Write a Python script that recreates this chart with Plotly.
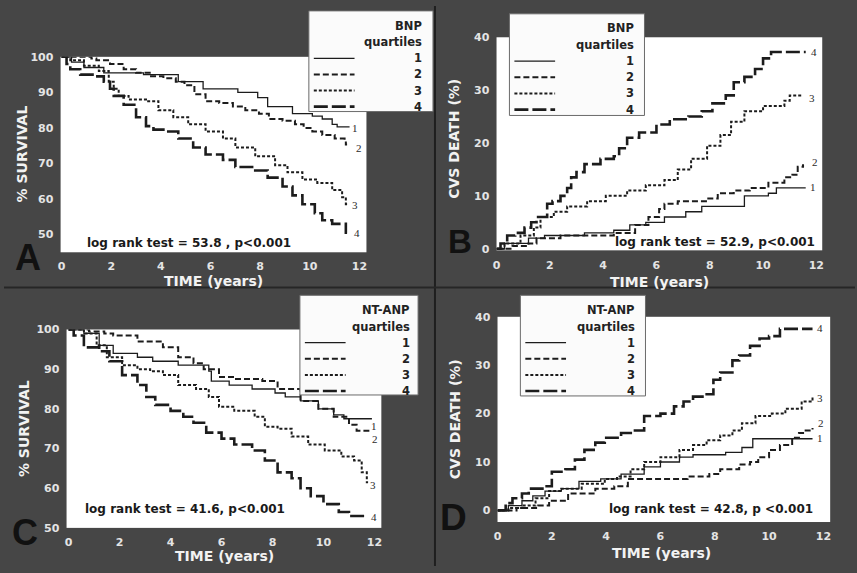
import plotly.graph_objects as go

# ---------------- data ----------------
quartiles = ["1", "2", "3", "4"]
x_ticks = [0, 2, 4, 6, 8, 10, 12]
surv_ticks = [50, 60, 70, 80, 90, 100]
cvs_ticks = [0, 10, 20, 30, 40]

# A: BNP quartiles, % survival
bnp_surv_t1 = [0, 0.4, 0.9, 1.7, 3.3, 4.7, 5.7, 7.1, 7.9, 8.3, 9.3, 10.1, 10.5, 10.9, 11.1, 11.6]
bnp_surv_1 = [100, 98.5, 97, 95.5, 95, 93, 91, 90, 88.5, 86, 84, 83.3, 82.5, 81, 80.3, 80.3]
bnp_surv_t2 = [0, 1.2, 1.4, 1.95, 2.5, 3.0, 3.55, 4.1, 4.6, 4.95, 5.35, 5.8, 6.35, 6.9, 7.4, 7.95, 8.35, 8.9, 9.4, 9.75, 10.1, 10.5, 11.0, 11.4, 11.45, 11.5]
bnp_surv_2 = [100, 99.5, 99, 98, 96.5, 95.5, 94.5, 94, 93, 92, 89.5, 87.5, 87, 86, 85, 84, 82.5, 82, 81, 80, 79, 78, 77, 76.3, 75.3, 75.3]
bnp_surv_t3 = [0, 0.35, 0.9, 1.5, 1.9, 2.1, 2.3, 2.7, 3.4, 3.9, 4.5, 5.1, 5.8, 6.5, 7.0, 7.8, 8.6, 9.1, 9.7, 10.3, 10.9, 11.3, 11.45, 11.5]
bnp_surv_3 = [100, 99, 97.5, 96, 93, 91, 89, 88, 87.5, 85, 83, 81, 79, 77, 74.5, 72, 69.5, 67.5, 65.5, 64.5, 62.5, 60.5, 58.5, 58.5]
bnp_surv_t4 = [0, 0.2, 0.35, 0.75, 1.3, 1.7, 1.95, 2.1, 2.5, 3.0, 3.4, 3.7, 4.1, 4.7, 5.3, 5.8, 6.5, 7.0, 7.8, 8.3, 8.9, 9.3, 9.7, 10.2, 10.5, 10.9, 11.45, 11.5]
bnp_surv_4 = [100, 98, 96.5, 95, 94.5, 93, 91, 89, 86.5, 83, 80.5, 79.5, 79, 77, 74.5, 72.5, 71, 69, 68, 66, 63.5, 61, 58.5, 56, 54, 53, 50.5, 50.5]

# B: BNP quartiles, CVS death (%)
bnp_cvs_t1 = [0, 0.3, 1.2, 1.8, 3.3, 4.4, 5.0, 5.6, 6.3, 7.1, 7.7, 9.3, 10.2, 10.5, 11.6]
bnp_cvs_1 = [0, 1, 2, 2.5, 3, 3.5, 4.5, 5, 6, 7, 8, 10, 10.5, 11.5, 11.5]
bnp_cvs_t2 = [0, 0.6, 1.2, 1.5, 2.4, 4.4, 5.2, 5.7, 6.1, 6.3, 6.8, 7.9, 8.3, 8.9, 9.5, 10.2, 10.8, 11.1, 11.3, 11.5]
bnp_cvs_2 = [0, 0.5, 1, 2, 2.5, 3, 4.5, 6, 7.5, 8.5, 9, 9.5, 10.5, 11, 11.5, 12.5, 13.5, 14, 15.5, 16]
bnp_cvs_t3 = [0, 0.3, 0.9, 1.4, 1.65, 2.15, 2.65, 3.4, 4.1, 4.9, 5.6, 6.3, 6.8, 7.3, 7.9, 8.4, 8.8, 9.3, 10.0, 10.8, 11.0, 11.5]
bnp_cvs_3 = [0, 1, 2.5, 4, 6, 7, 8, 9, 10, 11, 12, 13, 15, 17, 19.5, 21.5, 24, 26, 27, 28, 29, 29]
bnp_cvs_t4 = [0, 0.15, 0.4, 0.7, 1.05, 1.3, 1.5, 1.9, 2.1, 2.4, 2.65, 2.8, 3.0, 3.3, 3.9, 4.4, 4.6, 4.9, 5.35, 6.0, 6.5, 7.2, 7.7, 8.1, 8.6, 8.9, 9.3, 9.7, 10.0, 10.3, 11.6]
bnp_cvs_4 = [0, 1, 2.5, 3, 4, 5, 6, 8.5, 9, 10, 11.5, 13.5, 14.5, 16, 17, 17.5, 19, 21, 22, 23.5, 24.5, 25, 26, 27.5, 29, 31.5, 32.5, 34, 36, 37.2, 37.2]

# C: NT-ANP quartiles, % survival
ntanp_surv_t1 = [0, 0.6, 1.2, 1.75, 2.7, 3.3, 4.3, 5.5, 5.6, 6.3, 7.2, 8.1, 8.5, 9.1, 9.8, 10.4, 10.8, 11.9]
ntanp_surv_1 = [100, 99, 96, 94, 93, 92, 91, 89.5, 87, 86, 85, 84, 83, 82, 80, 78.5, 77.5, 77.5]
ntanp_surv_t2 = [0, 0.8, 1.4, 1.75, 2.7, 3.7, 4.3, 4.9, 5.3, 5.9, 6.5, 7.6, 8.2, 9.1, 9.8, 10.4, 11.0, 11.3, 11.8]
ntanp_surv_2 = [100, 99.5, 99, 98.5, 97, 95.5, 93, 91.5, 90, 88, 87.5, 87, 85, 82, 80, 78, 76, 74.5, 74.5]
ntanp_surv_t3 = [0, 0.6, 1.1, 1.5, 2.1, 2.7, 3.2, 3.7, 4.3, 5.0, 5.5, 5.9, 6.5, 7.3, 7.7, 8.2, 8.75, 9.4, 10.05, 10.7, 11.2, 11.5, 11.7, 11.75]
ntanp_surv_3 = [100, 99, 96, 93, 91, 90, 89.5, 88.5, 86, 85, 83, 80.5, 79.5, 78, 75.5, 75, 73, 71, 69.5, 68, 67, 64, 61.5, 61.5]
ntanp_surv_t4 = [0, 0.2, 0.6, 1.2, 1.6, 2.1, 2.7, 3.05, 3.4, 4.0, 4.5, 4.9, 5.4, 6.0, 6.5, 7.2, 7.7, 8.2, 8.75, 9.1, 9.5, 10.0, 10.6, 11.0, 11.6]
ntanp_surv_4 = [100, 98.5, 95.5, 94.5, 92, 88.5, 86, 83, 81, 79.5, 78, 76.5, 74, 72.5, 71, 69.5, 67, 64, 62.5, 60, 58, 56, 54, 53, 53]

# D: NT-ANP quartiles, CVS death (%)
ntanp_cvs_t1 = [0, 0.4, 0.9, 1.3, 1.75, 2.35, 3.0, 3.8, 4.55, 5.4, 6.0, 6.7, 7.2, 8.4, 9.0, 9.4, 11.6]
ntanp_cvs_1 = [0, 1, 2, 3, 4, 4.5, 6, 6.5, 7.5, 9, 10, 11, 11.5, 12, 13, 14.8, 14.8]
ntanp_cvs_t2 = [0, 0.7, 1.5, 1.9, 2.6, 3.6, 4.3, 4.8, 7.0, 7.8, 8.2, 8.9, 9.3, 9.6, 10.0, 10.4, 10.85, 11.1, 11.3, 11.6]
ntanp_cvs_2 = [0, 0.5, 1, 2, 3.5, 4.5, 5, 6.5, 7, 7.5, 8.5, 9.5, 10, 11, 12.5, 13.5, 15, 16, 16.5, 17]
ntanp_cvs_t3 = [0, 0.4, 0.9, 1.4, 1.9, 2.35, 3.1, 3.95, 4.4, 4.9, 5.4, 6.0, 6.7, 7.2, 7.7, 8.2, 8.65, 9.0, 9.5, 10.1, 10.6, 11.2, 11.6]
ntanp_cvs_3 = [0, 0.5, 1, 2.5, 4, 4.5, 5.5, 6.5, 7, 8.5, 10, 11, 12.5, 13.5, 14.5, 15.5, 16.5, 18, 19.5, 20, 21, 22.5, 23.5]
ntanp_cvs_t4 = [0, 0.3, 0.55, 0.9, 1.15, 1.75, 2.0, 2.5, 2.85, 3.2, 3.6, 3.95, 4.55, 5.0, 5.4, 6.0, 6.5, 6.85, 7.2, 7.6, 7.95, 8.2, 8.65, 8.9, 9.3, 9.65, 10.0, 10.4, 11.6]
ntanp_cvs_4 = [0, 1.5, 2.5, 3.5, 4.5, 5, 8, 8.5, 10.5, 12.5, 14, 15, 16, 16.5, 19.5, 20, 21.5, 22.5, 23.5, 24, 27, 28.5, 31, 32, 34, 35.5, 36, 37.5, 37.5]

log_rank = [
    "log rank test = 53.8 , p<0.001",
    "log rank test = 52.9, p<0.001",
    "log rank test = 41.6, p<0.001",
    "log rank test = 42.8, p <0.001",
]

# ---------------- styling / layout ----------------
W, H = 857, 573
BG = "#464646"
INK = "#1c1c1c"
TICK_C = "#e4e4e4"
SANS = "DejaVu Sans"


def px(x):
    return x / W


def py(y):
    return 1 - y / H


# line styles for quartiles 1..4: (dash, width)
styles = [("solid", 1.3), ("6px,3px", 2.0), ("3px,2px", 2.0), ("14px,4px", 2.6)]

panels = [
    dict(series=[(bnp_surv_t1, bnp_surv_1), (bnp_surv_t2, bnp_surv_2),
                 (bnp_surv_t3, bnp_surv_3), (bnp_surv_t4, bnp_surv_4)],
         box=(57, 365, 52, 252), xr=[-0.04, 12.28], yr=[45, 100], yt=surv_ticks,
         ytitle="% SURVIVAL", ytitle_pos=(18, 151), xtitle_pos=(211, 281),
         letter="A", letter_pos=(24, 257), letter_size=36,
         lr_pos=(82, 243, "left"),
         ends=[(11.8, 79.9), (11.96, 74.4), (11.8, 58.2), (11.88, 50.3)],
         legend=dict(box=(307, 432, 5, 108), name="BNP")),
    dict(series=[(bnp_cvs_t1, bnp_cvs_1), (bnp_cvs_t2, bnp_cvs_2),
                 (bnp_cvs_t3, bnp_cvs_3), (bnp_cvs_t4, bnp_cvs_4)],
         box=(496, 824, 32, 250), xr=[0, 12.22], yr=[-0.3, 40], yt=cvs_ticks,
         ytitle="CVS DEATH (%)", ytitle_pos=(453, 136), xtitle_pos=(660, 282),
         letter="B", letter_pos=(459, 241), letter_size=33,
         lr_pos=(819, 241, "right"),
         ends=[(11.89, 11.7), (11.96, 16.5), (11.85, 28.5), (11.93, 37.2)],
         legend=dict(box=(509, 645, 8, 112), name="BNP")),
    dict(series=[(ntanp_surv_t1, ntanp_surv_1), (ntanp_surv_t2, ntanp_surv_2),
                 (ntanp_surv_t3, ntanp_surv_3), (ntanp_surv_t4, ntanp_surv_4)],
         box=(63, 380, 331, 534), xr=[-0.08, 12.27], yr=[50, 100], yt=surv_ticks,
         ytitle="% SURVIVAL", ytitle_pos=(20, 432), xtitle_pos=(222, 563),
         letter="C", letter_pos=(21, 539), letter_size=36,
         lr_pos=(80, 515, "left"),
         ends=[(12.0, 75.8), (12.04, 72.5), (11.96, 60.8), (12.0, 52.7)],
         legend=dict(box=(298, 417, 296, 398), name="NT-ANP")),
    dict(series=[(ntanp_cvs_t1, ntanp_cvs_1), (ntanp_cvs_t2, ntanp_cvs_2),
                 (ntanp_cvs_t3, ntanp_cvs_3), (ntanp_cvs_t4, ntanp_cvs_4)],
         box=(497, 832, 318, 528), xr=[0, 12.25], yr=[-2.4, 40], yt=cvs_ticks,
         ytitle="CVS DEATH (%)", ytitle_pos=(455, 423), xtitle_pos=(662, 560),
         letter="D", letter_pos=(453, 523), letter_size=37,
         lr_pos=(817, 515, "right"),
         ends=[(11.88, 14.9), (11.92, 18.1), (11.88, 23.2), (11.88, 37.6)],
         legend=dict(box=(520, 646, 296, 399), name="NT-ANP")),
]

fig = go.Figure()
layout = {}
annotations = []
shapes = []

tickfont = dict(family=SANS, size=11, color=TICK_C, weight="bold")

for i, p in enumerate(panels, start=1):
    sfx = "" if i == 1 else str(i)
    xa, ya = "x" + sfx, "y" + sfx
    x0, x1, y0, y1 = p["box"]
    layout["xaxis" + sfx] = dict(
        domain=[px(x0), px(x1)], range=p["xr"], anchor=ya,
        tickvals=x_ticks, ticks="outside", ticklen=4, tickcolor="rgba(0,0,0,0)",
        showgrid=False, zeroline=False, showline=False, tickfont=tickfont,
        fixedrange=True)
    layout["yaxis" + sfx] = dict(
        domain=[py(y1), py(y0)], range=p["yr"], anchor=xa,
        tickvals=p["yt"], ticks="outside", ticklen=4, tickcolor="rgba(0,0,0,0)",
        showgrid=False, zeroline=False, showline=False, tickfont=tickfont,
        fixedrange=True)

    # survival / cumulative-death step curves
    for q, ((t, v), (dash, w)) in enumerate(zip(p["series"], styles)):
        fig.add_trace(go.Scatter(
            x=t, y=v, mode="lines", line=dict(shape="hv", color=INK, width=w, dash=dash),
            xaxis=xa, yaxis=ya, showlegend=False, hoverinfo="skip"))
        ex, ey = p["ends"][q]
        annotations.append(dict(
            x=ex, y=ey, xref=xa, yref=ya, text=quartiles[q], showarrow=False,
            font=dict(family="Liberation Serif", size=11, color="#2a2a2a"),
            xanchor="center", yanchor="middle"))

    # axis titles
    tx, ty = p["ytitle_pos"]
    annotations.append(dict(
        x=px(tx), y=py(ty), xref="paper", yref="paper", text=p["ytitle"],
        textangle=-90, showarrow=False, xanchor="center", yanchor="middle",
        font=dict(family=SANS, size=14, color="#f2f2f2", weight="bold")))
    tx, ty = p["xtitle_pos"]
    annotations.append(dict(
        x=px(tx), y=py(ty), xref="paper", yref="paper", text="TIME (years)",
        showarrow=False, xanchor="center", yanchor="middle",
        font=dict(family=SANS, size=14, color="#f2f2f2", weight="bold")))

    # panel letter
    lx, ly = p["letter_pos"]
    annotations.append(dict(
        x=px(lx), y=py(ly), xref="paper", yref="paper", text=p["letter"],
        showarrow=False, xanchor="center", yanchor="middle",
        font=dict(family="Liberation Sans", size=p["letter_size"], color="#111111",
                  weight="bold")))

    # log-rank statistic
    lx, ly, anc = p["lr_pos"]
    annotations.append(dict(
        x=px(lx), y=py(ly), xref="paper", yref="paper", text=log_rank[i - 1],
        showarrow=False, xanchor=anc, yanchor="middle",
        font=dict(family=SANS, size=12, color="#1a1a1a", weight="bold")))

    # legend box
    lg = p["legend"]
    bx0, bx1, by0, by1 = lg["box"]
    shapes.append(dict(type="rect", xref="paper", yref="paper",
                       x0=px(bx0), x1=px(bx1), y0=py(by1), y1=py(by0),
                       fillcolor="#fbfbfb", line=dict(color="#6a6a6a", width=1),
                       layer="above"))
    lfont = dict(family=SANS, size=11.5, color="#222222", weight="bold")
    right = bx1 - 6 if bx1 < 430 else bx1 - 9
    annotations.append(dict(x=px(right), y=py(by0 + 15), xref="paper", yref="paper",
                            text=lg["name"], showarrow=False, xanchor="right",
                            yanchor="middle", font=lfont))
    annotations.append(dict(x=px(right), y=py(by0 + 32), xref="paper", yref="paper",
                            text="quartiles", showarrow=False, xanchor="right",
                            yanchor="middle", font=lfont))
    for q, (dash, w) in enumerate(styles):
        ry = by0 + 48.5 + q * 16.5
        shapes.append(dict(type="line", xref="paper", yref="paper",
                           x0=px(bx0 + 5), x1=px(bx0 + 46), y0=py(ry), y1=py(ry),
                           line=dict(color=INK, width=w, dash=dash), layer="above"))
        annotations.append(dict(x=px(right), y=py(ry), xref="paper", yref="paper",
                                text=quartiles[q], showarrow=False, xanchor="right",
                                yanchor="middle", font=lfont))

# panel dividers
shapes.append(dict(type="line", xref="paper", yref="paper", x0=px(434), x1=px(434),
                   y0=0, y1=1, line=dict(color="#1f1f1f", width=2), layer="below"))
shapes.append(dict(type="line", xref="paper", yref="paper", x0=0, x1=1,
                   y0=py(288), y1=py(288), line=dict(color="#262626", width=2),
                   layer="below"))

fig.update_layout(
    width=W, height=H, margin=dict(l=0, r=0, t=0, b=0),
    paper_bgcolor=BG, plot_bgcolor="#ffffff",
    showlegend=False, annotations=annotations, shapes=shapes,
    **layout)

fig.write_html("out.html")
